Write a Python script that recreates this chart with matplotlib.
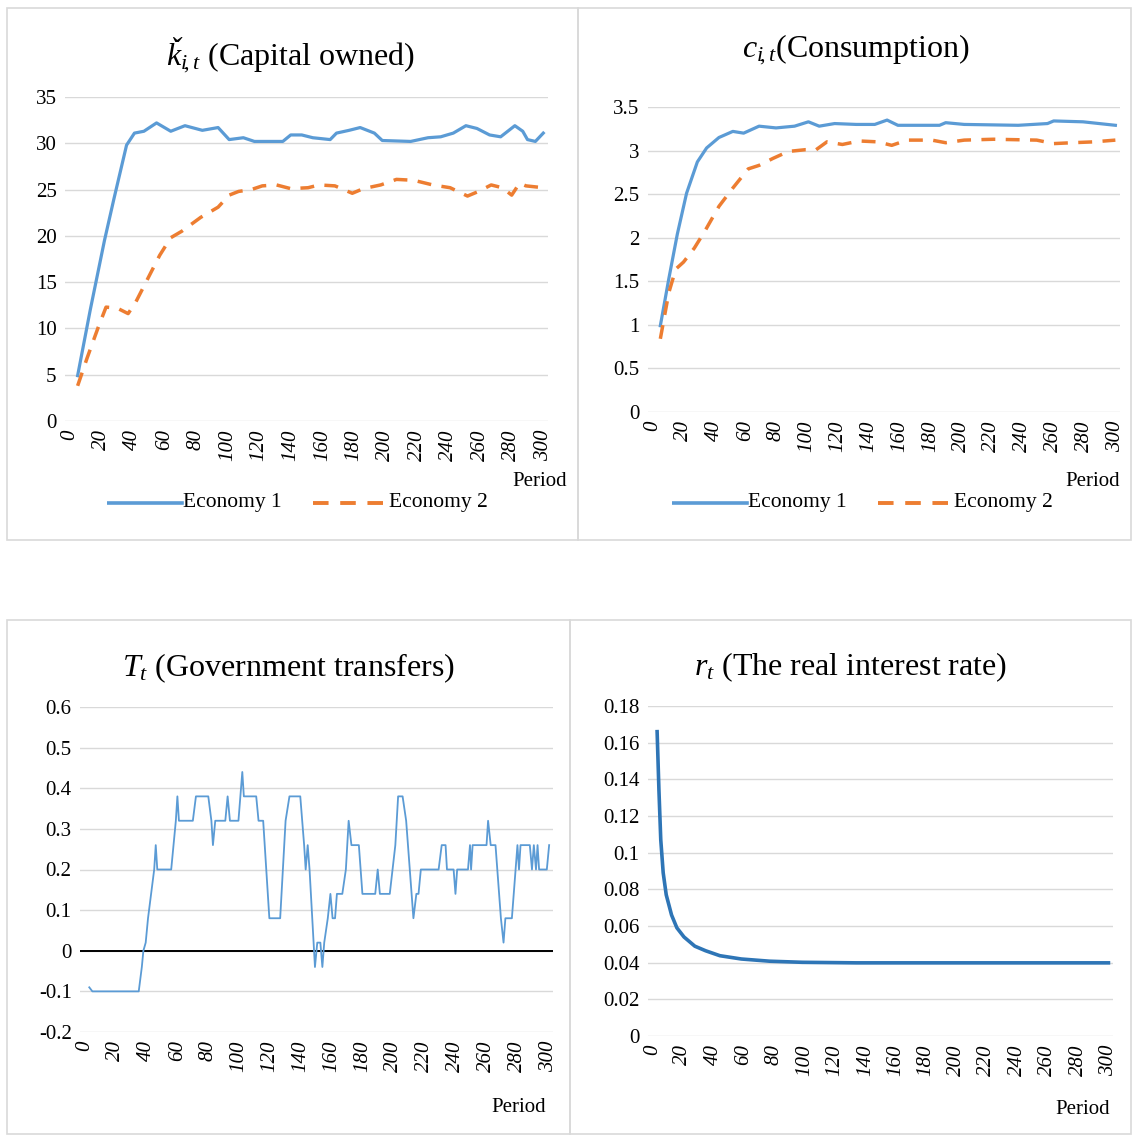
import matplotlib
matplotlib.use("Agg")
import matplotlib.pyplot as plt
from matplotlib.patches import Rectangle
from matplotlib.lines import Line2D

plt.rcParams['font.family'] = ['Liberation Serif', 'DejaVu Serif']
plt.rcParams['mathtext.fontset'] = 'custom'
plt.rcParams['mathtext.rm'] = 'Liberation Serif'
plt.rcParams['mathtext.it'] = 'Liberation Serif:italic'

# capital owned (period, value)
k1_t = [5, 13, 22, 28, 36, 41, 47, 55, 64, 73, 84, 94, 101, 110, 117, 135, 140, 147, 154, 165,
        169, 177, 184, 193, 198, 216, 227, 235, 243, 251, 258, 266, 273, 282, 287, 290, 295, 300]
k1_v = [4.9, 12.0, 19.5, 24.0, 29.8, 31.1, 31.3, 32.2, 31.3, 31.9, 31.4, 31.7, 30.4, 30.6, 30.2, 30.2,
        30.9, 30.9, 30.6, 30.4, 31.1, 31.4, 31.7, 31.1, 30.3, 30.2, 30.6, 30.7, 31.1, 31.9, 31.6, 30.9,
        30.7, 31.9, 31.3, 30.4, 30.2, 31.1]
k2_t = [5, 11, 18, 23, 30, 37, 42, 48, 57, 64, 71, 83, 94, 101, 107, 115, 122, 131, 140, 151, 158,
        168, 179, 186, 197, 207, 218, 230, 241, 252, 259, 267, 274, 280, 285, 289, 300]
k2_v = [3.8, 6.8, 10.1, 12.3, 12.2, 11.6, 12.9, 14.9, 17.9, 19.8, 20.5, 22.0, 23.1, 24.4, 24.8, 25.0,
        25.4, 25.5, 25.1, 25.2, 25.5, 25.4, 24.6, 25.1, 25.5, 26.1, 26.0, 25.5, 25.2, 24.3, 24.8, 25.5,
        25.2, 24.4, 25.7, 25.4, 25.2]

# consumption
c1_t = [5, 10.5, 16, 22, 29, 35, 43, 52, 59, 69, 80, 92, 101, 108, 118, 132, 144, 152, 159, 186,
        190, 202, 237, 256, 260, 279, 300]
c1_v = [0.99, 1.53, 2.04, 2.51, 2.87, 3.03, 3.15, 3.22, 3.20, 3.28, 3.26, 3.28, 3.33, 3.28, 3.31,
        3.30, 3.30, 3.35, 3.29, 3.29, 3.32, 3.30, 3.29, 3.31, 3.34, 3.33, 3.29]
c2_t = [5, 10.5, 15, 20, 27, 34, 43, 52, 62, 69, 78, 88, 99, 106, 113, 123, 134, 146, 155, 165,
        181, 190, 202, 221, 249, 260, 272, 286, 300]
c2_v = [0.84, 1.37, 1.64, 1.72, 1.88, 2.08, 2.36, 2.57, 2.79, 2.83, 2.91, 2.99, 3.01, 3.01, 3.10,
        3.07, 3.11, 3.10, 3.06, 3.12, 3.12, 3.09, 3.12, 3.13, 3.12, 3.08, 3.09, 3.10, 3.12]

# government transfers
tr_t = [3, 5, 35, 37, 38, 39.5, 41, 43, 45, 46, 47, 56, 59, 60, 61, 70, 72, 80, 82, 83, 84.5, 91,
        92.5, 94, 99.5, 102, 103, 111, 112.5, 115.5, 119.5, 126.5, 130, 132.5, 139.5, 142, 143,
        144.3, 145.5, 149, 150.5, 152.5, 153.8, 155, 157.3, 159, 160.4, 162, 163.2, 166.7, 169,
        170.8, 172.6, 177.4, 179.7, 188, 189.6, 191, 197.4, 201, 202.8, 205.7, 208, 212.7, 214.6,
        216, 217.5, 229, 231, 233.5, 234.4, 238.7, 239.9, 241, 248, 249.3, 250, 251, 260, 261,
        262.7, 265.8, 269.3, 271, 272.2, 276.4, 280, 281, 282, 288, 289.4, 290.6, 292, 293, 294,
        299, 300.5]
tr_v = [-0.09, -0.10, -0.10, -0.04, 0.00, 0.02, 0.08, 0.14, 0.20, 0.26, 0.20, 0.20, 0.32, 0.38,
        0.32, 0.32, 0.38, 0.38, 0.32, 0.26, 0.32, 0.32, 0.38, 0.32, 0.32, 0.44, 0.38, 0.38, 0.32,
        0.32, 0.08, 0.08, 0.32, 0.38, 0.38, 0.26, 0.20, 0.26, 0.20, -0.04, 0.02, 0.02, -0.04, 0.02,
        0.08, 0.14, 0.08, 0.08, 0.14, 0.14, 0.20, 0.32, 0.26, 0.26, 0.14, 0.14, 0.20, 0.14, 0.14,
        0.26, 0.38, 0.38, 0.32, 0.08, 0.14, 0.14, 0.20, 0.20, 0.26, 0.26, 0.20, 0.20, 0.14, 0.20,
        0.20, 0.26, 0.20, 0.26, 0.26, 0.32, 0.26, 0.26, 0.08, 0.02, 0.08, 0.08, 0.26, 0.20, 0.26,
        0.26, 0.20, 0.26, 0.20, 0.26, 0.20, 0.20, 0.26]

# real interest rate
r_t = [3, 4.2, 5.4, 7, 9, 12.5, 16, 20.7, 27.8, 34.9, 44.3, 58.4, 77, 98.5, 134, 300]
r_v = [0.166, 0.134, 0.107, 0.089, 0.077, 0.066, 0.059, 0.054, 0.049, 0.0465, 0.0438, 0.042,
       0.0408, 0.0402, 0.0399, 0.0399]

W, H = 1132, 1135
BLUE = '#5B9BD5'
ORANGE = '#ED7D31'
GRID = '#D9D9D9'
TICK_FS = 15
TITLE_FS = 23

fig = plt.figure(figsize=(W / 100, H / 100), dpi=100)

def px_axes(l, t, r, b):
    return fig.add_axes([l / W, 1 - b / H, (r - l) / W, (b - t) / H])

def px_text(x, y, s, **kw):
    return fig.text(x / W, 1 - y / H, s, **kw)

def style(ax, ylo, yhi, step):
    ax.set_xlim(-3, 303)
    ax.set_ylim(ylo, yhi)
    ticks = [ylo + i * step for i in range(int(round((yhi - ylo) / step)) + 1)]
    ax.set_yticks(ticks)
    ax.set_yticklabels(['%g' % round(v, 4) for v in ticks], fontsize=TICK_FS)
    ax.set_xticks(range(0, 301, 20))
    ax.set_xticklabels([str(v) for v in range(0, 301, 20)], rotation=90, fontsize=TICK_FS,
                       style='italic')
    for s in ax.spines.values():
        s.set_visible(False)
    ax.tick_params(length=0, pad=6)
    ax.grid(axis='y', color=GRID, lw=1)
    ax.set_axisbelow(True)

# panel frames
for (l, t, r, b) in [(7, 8, 578, 540), (578, 8, 1131, 540), (7, 620, 570, 1134), (570, 620, 1131, 1134)]:
    fig.patches.append(Rectangle((l / W, 1 - b / H), (r - l) / W, (b - t) / H,
                                 transform=fig.transFigure, fill=False, ec=GRID, lw=1.2))

# top left
ax1 = px_axes(65, 97, 548, 421)
style(ax1, 0, 35, 5)
ax1.plot(k1_t, k1_v, color=BLUE, lw=2.3, solid_joinstyle='round')
ax1.plot(k2_t, k2_v, color=ORANGE, lw=2.5, dashes=(4, 3))
px_text(291, 65, '$ǩ_{i\\!,t}$ (Capital owned)', fontsize=TITLE_FS, ha='center', va='baseline')
px_text(567, 482, 'Period', ha='right', va='center', fontsize=TICK_FS)

# top right
ax2 = px_axes(648, 107, 1120, 412)
style(ax2, 0, 3.5, 0.5)
ax2.plot(c1_t, c1_v, color=BLUE, lw=2.3, solid_joinstyle='round')
ax2.plot(c2_t, c2_v, color=ORANGE, lw=2.5, dashes=(4, 3))
px_text(856, 57, r'$c_{i\!,t}$(Consumption)', fontsize=TITLE_FS, ha='center', va='baseline')
px_text(1120, 482, 'Period', ha='right', va='center', fontsize=TICK_FS)

# legends for top panels
for cx in (107, 672):
    lax = fig.add_axes([cx / W, 1 - 515 / H, 400 / W, 24 / H])
    lax.axis('off')
    lax.set_xlim(0, 400)
    lax.set_ylim(0, 1)
    lax.add_line(Line2D([0, 75], [0.5, 0.5], color=BLUE, lw=2.6))
    lax.text(76, 0.5, 'Economy 1', va='center', fontsize=15.5)
    lax.add_line(Line2D([206, 281], [0.5, 0.5], color=ORANGE, lw=2.8, dashes=(4, 3)))
    lax.text(282, 0.5, 'Economy 2', va='center', fontsize=15.5)

# bottom left
ax3 = px_axes(80, 707, 553, 1032)
style(ax3, -0.2, 0.6, 0.1)
ax3.axhline(0, color='black', lw=1.4)
ax3.plot(tr_t, tr_v, color=BLUE, lw=1.3)
px_text(288, 676, '$T_t$ (Government transfers)', fontsize=TITLE_FS, ha='center', va='baseline')
px_text(546, 1107, 'Period', ha='right', va='center', fontsize=TICK_FS)

# bottom right
ax4 = px_axes(648, 706, 1113, 1036)
style(ax4, 0, 0.18, 0.02)
ax4.plot(r_t, r_v, color='#2E75B6', lw=2.6)
px_text(851, 675, '$r_t$ (The real interest rate)', fontsize=TITLE_FS, ha='center', va='baseline')
px_text(1110, 1110, 'Period', ha='right', va='center', fontsize=TICK_FS)

fig.savefig('out.png', dpi=100, facecolor='white')
